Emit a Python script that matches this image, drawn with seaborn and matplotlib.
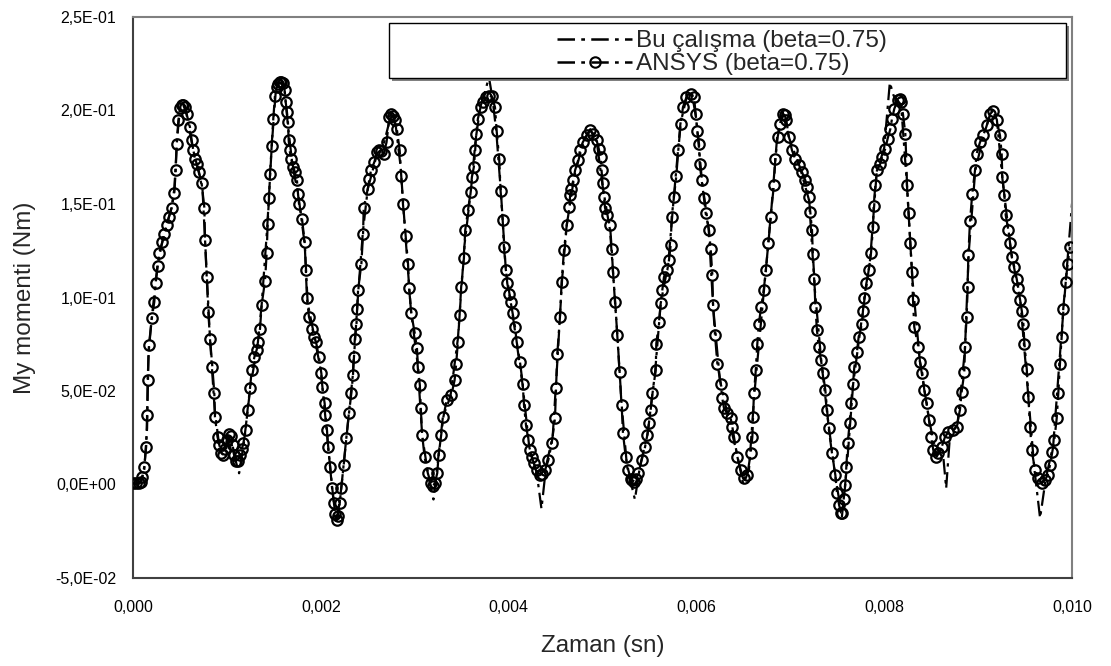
import numpy as np
import pandas as pd
import seaborn as sns
import matplotlib
matplotlib.use("Agg")
import matplotlib.pyplot as plt
from matplotlib.patches import Rectangle
from matplotlib.lines import Line2D
from matplotlib.ticker import FuncFormatter

# ---------------- data (time in microseconds, moment in Nm) ----------------
ansys_time_us = [
    0, 30, 60, 85, 100, 120, 140, 150, 156, 170,
    200, 227, 241, 263, 280, 312, 334, 359, 383, 412,
    440, 455, 465, 483, 505, 520, 535, 550, 572, 607,
    625, 642, 660, 678, 703, 731, 760, 767, 785, 802,
    820, 845, 866, 873, 900, 920, 940, 960, 980, 1000,
    1020, 1040, 1060, 1080, 1100, 1120, 1140, 1160, 1175, 1200,
    1220, 1246, 1264, 1292, 1317, 1335, 1353, 1370, 1406, 1424,
    1434, 1448, 1459, 1477, 1494, 1512, 1530, 1548, 1565, 1580,
    1600, 1615, 1626, 1640, 1650, 1658, 1668, 1685, 1705, 1725,
    1746, 1757, 1768, 1800, 1828, 1840, 1853, 1874, 1910, 1930,
    1950, 1980, 2006, 2016, 2041, 2050, 2066, 2077, 2100, 2122,
    2140, 2155, 2170, 2185, 2200, 2218, 2244, 2272, 2300, 2325,
    2343, 2350, 2362, 2380, 2387, 2397, 2432, 2450, 2457, 2500,
    2518, 2535, 2570, 2600, 2620, 2640, 2670, 2700, 2730, 2750,
    2765, 2785, 2810, 2840, 2857, 2875, 2904, 2929, 2940, 2964,
    3000, 3024, 3035, 3055, 3065, 3080, 3105, 3140, 3170, 3195,
    3215, 3240, 3255, 3282, 3305, 3340, 3390, 3425, 3442, 3460,
    3478, 3495, 3524, 3538, 3567, 3595, 3609, 3630, 3644, 3655,
    3673, 3702, 3726, 3762, 3790, 3820, 3855, 3873, 3900, 3915,
    3937, 3950, 3972, 3986, 4007, 4022, 4043, 4068, 4086, 4121,
    4150, 4164, 4185, 4210, 4228, 4245, 4270, 4298, 4334, 4360,
    4388, 4423, 4459, 4494, 4505, 4519, 4547, 4565, 4590, 4619,
    4647, 4655, 4662, 4690, 4708, 4740, 4760, 4790, 4832, 4867,
    4902, 4938, 4960, 4980, 4990, 5000, 5015, 5027, 5045, 5080,
    5098, 5112, 5133, 5158, 5183, 5204, 5218, 5247, 5275, 5300,
    5317, 5340, 5360, 5381, 5417, 5453, 5477, 5495, 5513, 5531,
    5567, 5573, 5602, 5620, 5637, 5655, 5690, 5708, 5726, 5737,
    5761, 5786, 5807, 5833, 5857, 5893, 5940, 5975, 5993, 6010,
    6028, 6035, 6056, 6081, 6099, 6134, 6152, 6170, 6177, 6198,
    6223, 6259, 6276, 6294, 6329, 6365, 6382, 6400, 6436, 6472,
    6507, 6542, 6578, 6596, 6603, 6613, 6632, 6649, 6665, 6690,
    6717, 6740, 6765, 6790, 6825, 6840, 6866, 6894, 6922, 6940,
    6958, 6983, 7018, 7053, 7089, 7125, 7160, 7178, 7196, 7213,
    7231, 7240, 7256, 7267, 7284, 7302, 7327, 7348, 7373, 7391,
    7409, 7444, 7480, 7497, 7520, 7540, 7555, 7568, 7586, 7597,
    7611, 7632, 7646, 7668, 7682, 7710, 7728, 7764, 7774, 7788,
    7810, 7835, 7860, 7881, 7888, 7906, 7923, 7959, 7977, 8012,
    8037, 8065, 8083, 8108, 8144, 8165, 8179, 8200, 8225, 8235,
    8243, 8260, 8278, 8296, 8307, 8320, 8363, 8381, 8406, 8427,
    8453, 8477, 8499, 8523, 8548, 8576, 8612, 8648, 8683, 8736,
    8772, 8807, 8825, 8853, 8860, 8878, 8889, 8896, 8914, 8938,
    8967, 8985, 9020, 9055, 9092, 9127, 9162, 9198, 9233, 9251,
    9258, 9280, 9294, 9322, 9340, 9358, 9386, 9411, 9428, 9446,
    9465, 9482, 9493, 9518, 9535, 9553, 9571, 9606, 9641, 9677,
    9712, 9741, 9766, 9790, 9812, 9837, 9854, 9872, 9890, 9907,
    9932, 9954, 9978,
]
ansys_moment = [
    .0006, .0006, .0008, .0015, .004, .0095, .020, .037, .056, .0745,
    .0888, .0977, .1075, .117, .124, .1297, .134, .1386, .143, .148,
    .156, .168, .182, .1947, .2015, .203, .203, .202, .198, .191,
    .184, .1787, .174, .1716, .167, .161, .148, .1306, .111, .0923,
    .078, .063, .0487, .036, .0255, .021, .017, .0158, .019, .024,
    .027, .026, .021, .016, .0125, .0125, .016, .019, .022, .029,
    .040, .0514, .061, .068, .072, .0763, .0834, .096, .109, .124,
    .1395, .153, .166, .181, .1956, .208, .2125, .2143, .215, .215,
    .2145, .211, .2045, .199, .194, .184, .1787, .174, .170, .167,
    .1627, .1556, .150, .142, .1297, .1146, .0995, .0896, .0834, .079,
    .076, .068, .0594, .052, .0434, .037, .029, .020, .0095, -.002,
    -.010, -.016, -.019, -.017, -.010, -.002, .0104, .0247, .038, .0487,
    .0585, .068, .0776, .086, .094, .104, .118, .134, .148, .158,
    .1636, .168, .1724, .178, .1787, .1785, .177, .183, .1965, .198,
    .197, .1947, .190, .1787, .165, .150, .133, .118, .105, .0915,
    .081, .0728, .063, .053, .0407, .0264, .0148, .006, .001, -.001,
    .001, .006, .0158, .0264, .036, .045, .0478, .0558, .0647, .0763,
    .0905, .1057, .121, .136, .1466, .1564, .1644, .1698, .1787, .1876,
    .1956, .2018, .2045, .207, .208, .2075, .2018, .189, .174, .157,
    .1417, .127, .1146, .1075, .102, .0977, .0915, .0843, .0763, .0656,
    .054, .0425, .0318, .0238, .0184, .0148, .0113, .0077, .005, .0055,
    .0077, .013, .022, .0354, .0514, .070, .0896, .1083, .1253, .1386,
    .1484, .1546, .158, .1627, .168, .1733, .1787, .183, .1867, .1894,
    .1876, .184, .1796, .175, .168, .161, .154, .148, .144, .1386,
    .126, .1137, .0977, .080, .060, .0425, .0274, .0148, .0077, .003,
    .0024, .0015, .003, .006, .013, .020, .0264, .0327, .040, .0487,
    .061, .0754, .087, .0968, .104, .111, .1146, .120, .128, .143,
    .1537, .165, .1787, .193, .2018, .207, .209, .207, .198, .189,
    .182, .1716, .1627, .153, .145, .136, .126, .112, .096, .080,
    .0647, .054, .046, .0407, .038, .0354, .031, .0255, .0148, .0077,
    .0033, .005, .0167, .0255, .036, .0487, .061, .0754, .086, .095,
    .104, .1146, .129, .143, .160, .174, .186, .193, .198, .1975,
    .1947, .186, .1787, .174, .1707, .167, .1627, .159, .1537, .1457,
    .136, .1235, .110, .095, .0825, .0736, .0665, .0594, .0505, .040,
    .030, .0167, .005, -.0047, -.011, -.015, -.015, -.008, .000, .0095,
    .022, .0327, .0434, .054, .063, .071, .079, .086, .093, .100,
    .1075, .1146, .124, .1377, .149, .160, .168, .1716, .175, .1796,
    .185, .190, .1956, .201, .2054, .206, .2045, .198, .1876, .174,
    .160, .145, .129, .1137, .0986, .0843, .0736, .0656, .0594, .0505,
    .0434, .0345, .0255, .0184, .0148, .0167, .020, .0255, .028, .029,
    .031, .040, .0496, .060, .0736, .0896, .1057, .1226, .141, .1556,
    .168, .177, .183, .1867, .192, .198, .200, .1947, .1867, .177,
    .1644, .1546, .144, .136, .129, .1217, .1163, .110, .105, .0986,
    .093, .086, .0754, .062, .047, .031, .0184, .0077, .0033, .0006,
    .0024, .005, .0104, .0175, .0238, .0354, .0487, .0647, .079, .094,
    .1083, .118, .127,
]

calisma_time_us = [
    0, 80, 120, 150, 165, 200, 260, 330, 410, 440,
    470, 500, 530, 570, 640, 700, 740, 770, 820, 870,
    920, 980, 1030, 1080, 1130, 1180, 1250, 1330, 1370, 1430,
    1480, 1520, 1570, 1610, 1650, 1700, 1760, 1830, 1860, 1920,
    2000, 2070, 2120, 2165, 2210, 2270, 2340, 2400, 2450, 2500,
    2600, 2660, 2720, 2750, 2800, 2850, 2900, 2960, 3030, 3080,
    3150, 3200, 3250, 3300, 3380, 3460, 3530, 3600, 3650, 3700,
    3760, 3790, 3830, 3870, 3920, 3970, 4060, 4150, 4220, 4300,
    4350, 4400, 4470, 4510, 4570, 4620, 4700, 4800, 4870, 4940,
    5000, 5080, 5140, 5200, 5260, 5345, 5400, 5480, 5560, 5620,
    5700, 5760, 5830, 5900, 5950, 6000, 6060, 6130, 6180, 6250,
    6330, 6420, 6500, 6560, 6620, 6700, 6790, 6860, 6920, 6990,
    7100, 7200, 7260, 7330, 7400, 7480, 7550, 7600, 7670, 7770,
    7850, 7920, 8000, 8060, 8100, 8180, 8240, 8300, 8380, 8480,
    8560, 8620, 8660, 8700, 8780, 8860, 8900, 8970, 9060, 9150,
    9200, 9260, 9350, 9450, 9530, 9600, 9660, 9720, 9800, 9880,
    9960, 10000, 10060,
]
calisma_moment = [
    .000, .001, .008, .030, .070, .089, .117, .134, .148, .158,
    .185, .201, .204, .198, .179, .167, .158, .128, .078, .040,
    .020, .017, .026, .015, .006, .022, .052, .076, .096, .138,
    .183, .210, .217, .213, .192, .170, .155, .128, .097, .082,
    .061, .025, -.002, -.020, -.006, .024, .058, .104, .136, .158,
    .177, .180, .192, .199, .191, .170, .134, .093, .065, .026,
    .003, -.008, .014, .036, .047, .078, .128, .158, .185, .202,
    .212, .218, .206, .188, .155, .115, .085, .053, .020, .006,
    -.013, .010, .026, .058, .110, .139, .165, .184, .190, .183,
    .160, .136, .094, .045, .010, -.008, .010, .027, .060, .097,
    .118, .154, .193, .208, .210, .195, .162, .137, .094, .056,
    .038, .019, .000, .008, .050, .093, .142, .186, .199, .185,
    .170, .152, .105, .066, .035, .004, -.017, .008, .054, .092,
    .120, .167, .180, .215, .208, .203, .162, .110, .066, .034,
    .015, .020, -.002, .026, .032, .072, .124, .168, .187, .201,
    .195, .163, .125, .098, .050, .008, -.018, .003, .021, .075,
    .125, .150, .170,
]

label_calisma = "Bu çalışma (beta=0.75)"
label_ansys = "ANSYS (beta=0.75)"
x_label = "Zaman (sn)"
y_label = "My momenti (Nm)"
x_ticks = [0.000, 0.002, 0.004, 0.006, 0.008, 0.010]
y_ticks = [-0.05, 0.0, 0.05, 0.10, 0.15, 0.20, 0.25]

assert len(ansys_time_us) == len(ansys_moment)
assert len(calisma_time_us) == len(calisma_moment)

df_ansys = pd.DataFrame({"t": np.array(ansys_time_us) / 1e6, "m": ansys_moment})
df_cal = pd.DataFrame({"t": np.array(calisma_time_us) / 1e6, "m": calisma_moment})

# ---------------- style ----------------
sns.set_theme(style="white")
plt.rcParams["font.family"] = ["Liberation Sans", "DejaVu Sans"]

W, H = 1111, 666
fig = plt.figure(figsize=(W / 100, H / 100), dpi=100)
ax = fig.add_axes([133 / W, 1 - 578 / H, (1072 - 133) / W, (578 - 17) / H])

dash = (0, (7, 2.5, 1.5, 2.5))

sns.lineplot(data=df_cal, x="t", y="m", ax=ax, sort=False, estimator=None,
             color="black", linewidth=1.6, linestyle=dash, zorder=2)
sns.lineplot(data=df_ansys, x="t", y="m", ax=ax, sort=False, estimator=None,
             color="black", linewidth=1.6, linestyle=dash, marker="o",
             markersize=7.5, markerfacecolor="none", markeredgecolor="black",
             markeredgewidth=1.6, zorder=3)

ax.set_xlim(0, 0.010)
ax.set_ylim(-0.05, 0.25)
ax.set_xticks(x_ticks)
ax.set_yticks(y_ticks)
ax.xaxis.set_major_formatter(FuncFormatter(lambda v, p: f"{v:.3f}".replace(".", ",")))
ax.yaxis.set_major_formatter(FuncFormatter(lambda v, p: f"{v:.1E}".replace(".", ",")))
ax.tick_params(axis="both", which="major", direction="out", length=5, width=1,
               color="#404040", labelsize=11.5, labelcolor="black", pad=7)
ax.tick_params(axis="x", pad=11)
ax.set_xlabel(x_label, fontsize=17.5, labelpad=14)
ax.set_ylabel(y_label, fontsize=17.5, labelpad=14)

for side in ["left", "bottom"]:
    ax.spines[side].set_color("#404040")
    ax.spines[side].set_linewidth(1.5)
for side in ["top", "right"]:
    ax.spines[side].set_color("#808080")
    ax.spines[side].set_linewidth(1.5)

# legend box with shadow (figure coordinates)
lx0, lx1, ly0, ly1 = 389, 1066, 23, 78
shadow = Rectangle(((lx0 + 3) / W, 1 - (ly1 + 3) / H), (lx1 - lx0) / W, (ly1 - ly0) / H,
                   transform=fig.transFigure, facecolor="#808080", edgecolor="none",
                   zorder=8, clip_on=False)
box = Rectangle((lx0 / W, 1 - ly1 / H), (lx1 - lx0) / W, (ly1 - ly0) / H,
                transform=fig.transFigure, facecolor="white", edgecolor="black",
                linewidth=1.0, zorder=9, clip_on=False)
ax.add_patch(shadow)
ax.add_patch(box)

h1 = Line2D([], [], color="black", linewidth=1.8, linestyle=dash)
h2 = Line2D([], [], color="black", linewidth=1.8, linestyle=dash, marker="o",
            markersize=7.5, markerfacecolor="none", markeredgewidth=1.5)
leg = ax.legend([h1, h2], [label_calisma, label_ansys], loc="upper left",
                bbox_to_anchor=(557 / W, 1 - 30 / H), bbox_transform=fig.transFigure,
                frameon=False, borderpad=0, borderaxespad=0, handlelength=3.1,
                handletextpad=0.15, labelspacing=0.06, fontsize=17.5)
leg.set_zorder(10)

fig.savefig("out.png", dpi=100)
